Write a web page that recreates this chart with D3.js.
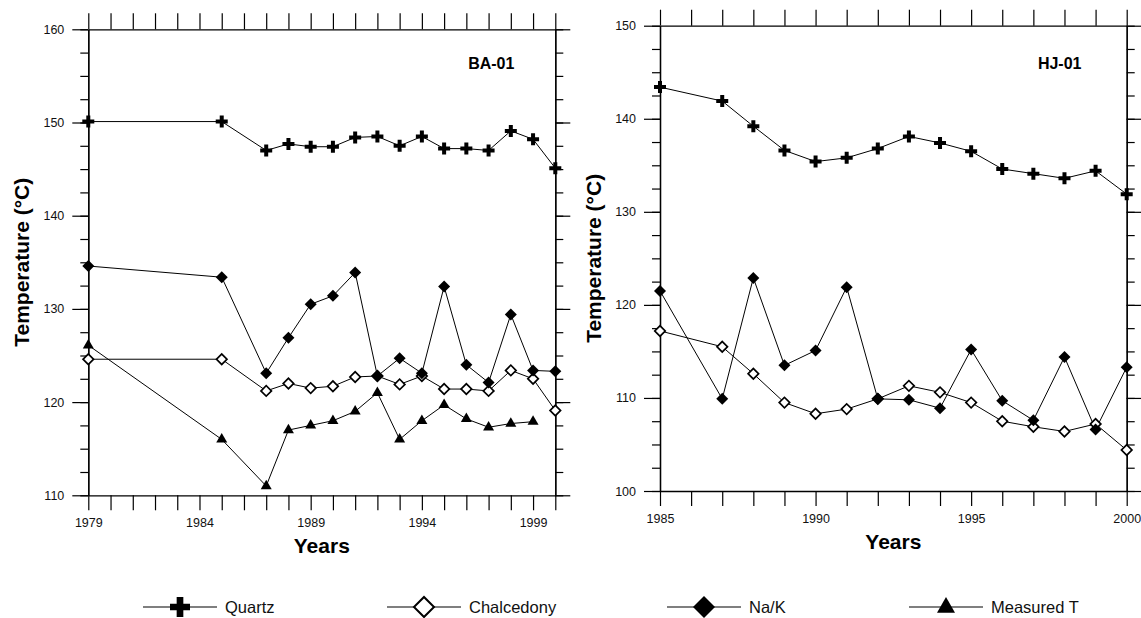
<!DOCTYPE html>
<html>
<head>
<meta charset="utf-8">
<script src="https://cdn.jsdelivr.net/npm/d3@7"></script>
<style>
  html, body { margin: 0; padding: 0; background: #fff; }
  svg { display: block; font-family: "Liberation Sans", Arial, sans-serif; }
</style>
</head>
<body>
<svg id="chart" width="1141" height="618"></svg>
<script>
// ---- Well BA-01 ----
const baYears = [1979, 1985, 1987, 1988, 1989, 1990, 1991, 1992, 1993, 1994, 1995, 1996, 1997, 1998, 1999, 2000];
const baQuartz = [150.1, 150.1, 147.0, 147.7, 147.4, 147.4, 148.4, 148.5, 147.5, 148.5, 147.2, 147.2, 147.0, 149.1, 148.2, 145.1];
const baChalcedony = [124.6, 124.6, 121.2, 122.0, 121.5, 121.7, 122.7, 122.8, 121.9, 122.8, 121.4, 121.4, 121.2, 123.4, 122.5, 119.1];
const baNaK = [134.6, 133.4, 123.1, 126.9, 130.5, 131.4, 133.9, 122.8, 124.7, 123.1, 132.4, 124.0, 122.1, 129.4, 123.4, 123.3];
const baMeasured = [126.1, 116.0, 111.0, 117.0, 117.5, 118.0, 119.0, 121.0, 116.0, 118.0, 119.7, 118.2, 117.3, 117.7, 117.9, null];
const baYearLabels = [1979, 1984, 1989, 1994, 1999];
const baTempLabels = [110, 120, 130, 140, 150, 160];

// ---- Well HJ-01 ----
const hjYears = [1985, 1987, 1988, 1989, 1990, 1991, 1992, 1993, 1994, 1995, 1996, 1997, 1998, 1999, 2000];
const hjQuartz = [143.4, 141.9, 139.2, 136.6, 135.4, 135.8, 136.8, 138.1, 137.4, 136.5, 134.6, 134.1, 133.6, 134.4, 131.9];
const hjChalcedony = [117.2, 115.5, 112.6, 109.5, 108.3, 108.8, 109.9, 111.3, 110.6, 109.5, 107.5, 106.9, 106.4, 107.2, 104.4];
const hjNaK = [121.5, 109.9, 122.9, 113.5, 115.1, 121.9, 109.9, 109.8, 108.9, 115.2, 109.7, 107.6, 114.4, 106.6, 113.3];
const hjYearLabels = [1985, 1990, 1995, 2000];
const hjTempLabels = [100, 110, 120, 130, 140, 150];

const seriesNames = ["Quartz", "Chalcedony", "Na/K", "Measured T"];

const svg = d3.select("#chart");

// Marker shapes; sz = overall width in px
function markerPath(kind, sz) {
  if (kind === "Quartz") {
    const a = (sz / 3) * (sz / 3) * 5;
    return d3.symbol(d3.symbolCross, a)();
  }
  if (kind === "Chalcedony" || kind === "Na/K") {
    const s = sz / Math.SQRT2;
    return d3.symbol(d3.symbolSquare, s * s)();
  }
  const y = sz / (2 * Math.sqrt(3));
  return d3.symbol(d3.symbolTriangle, 3 * Math.sqrt(3) * y * y)();
}

function drawMarker(g, kind, x, y, sz) {
  const p = g.append("path")
    .attr("d", markerPath(kind, sz));
  if (kind === "Chalcedony" || kind === "Na/K") {
    p.attr("transform", `translate(${x},${y}) rotate(45)`);
  } else {
    p.attr("transform", `translate(${x},${y})`);
  }
  if (kind === "Chalcedony") {
    p.attr("fill", "#fff").attr("stroke", "#000").attr("stroke-width", 1.7);
  } else {
    p.attr("fill", "#000");
  }
  return p;
}

function drawPanel(cfg) {
  const x = d3.scaleLinear().domain(cfg.yearDomain).range([cfg.left, cfg.right]);
  const y = d3.scaleLinear().domain(cfg.tempDomain).range([cfg.bottom, cfg.top]);
  const g = svg.append("g");

  const allYears = d3.range(cfg.yearDomain[0], cfg.yearDomain[1] + 1);
  const minorTemps = d3.range(cfg.tempDomain[0], cfg.tempDomain[1] + 0.01, 2.5);

  const styleAxis = sel => {
    sel.selectAll("path.domain").attr("stroke", "#000").attr("stroke-width", 1.3);
    sel.selectAll(".tick line").attr("stroke", "#000").attr("stroke-width", 1.2);
    sel.selectAll(".tick text").attr("fill", "#111")
      .style("font-family", '"Liberation Sans", Arial, sans-serif');
  };

  // bottom axis: a tick per year, labels every 5 years
  g.append("g").attr("transform", `translate(0,${cfg.bottom})`)
    .call(d3.axisBottom(x).tickValues(allYears).tickSize(15).tickSizeOuter(0).tickPadding(8)
      .tickFormat(d => cfg.yearLabels.includes(d) ? String(d) : ""))
    .call(styleAxis)
    .selectAll(".tick text").style("font-size", "12.5px");

  // top axis: ticks only
  g.append("g").attr("transform", `translate(0,${cfg.top})`)
    .call(d3.axisTop(x).tickValues(allYears).tickSize(16).tickSizeOuter(0).tickFormat(""))
    .call(styleAxis);

  // left axis: minor and major ticks
  g.append("g").attr("transform", `translate(${cfg.left},0)`)
    .call(d3.axisLeft(y).tickValues(minorTemps).tickSize(8).tickSizeOuter(0).tickFormat(""))
    .call(styleAxis);
  g.append("g").attr("transform", `translate(${cfg.left},0)`)
    .call(d3.axisLeft(y).tickValues(cfg.tempLabels).tickSize(16).tickSizeOuter(0).tickPadding(8)
      .tickFormat(d3.format("d")))
    .call(styleAxis)
    .selectAll(".tick text").style("font-size", "12.5px");

  // right axis: minor and major ticks, no labels
  g.append("g").attr("transform", `translate(${cfg.right},0)`)
    .call(d3.axisRight(y).tickValues(minorTemps).tickSize(8).tickSizeOuter(0).tickFormat(""))
    .call(styleAxis);
  g.append("g").attr("transform", `translate(${cfg.right},0)`)
    .call(d3.axisRight(y).tickValues(cfg.tempLabels).tickSize(15).tickSizeOuter(0).tickFormat(""))
    .call(styleAxis);

  // series lines, then markers
  const line = d3.line()
    .defined(d => d.v !== null)
    .x(d => x(d.yr))
    .y(d => y(d.v));

  cfg.series.forEach(s => {
    const pts = cfg.years.map((yr, i) => ({ yr, v: s.values[i] }));
    g.append("path")
      .datum(pts)
      .attr("d", line)
      .attr("fill", "none")
      .attr("stroke", "#000")
      .attr("stroke-width", 1);
  });
  cfg.series.forEach(s => {
    const mg = g.append("g");
    cfg.years.forEach((yr, i) => {
      const v = s.values[i];
      if (v === null) return;
      drawMarker(mg, s.name, x(yr), y(v), s.name === "Chalcedony" ? 10.5 : (s.name === "Measured T" ? 11 : 12));
    });
  });

  // well name
  g.append("text")
    .attr("x", cfg.right - cfg.nameOffset)
    .attr("y", cfg.nameY)
    .attr("text-anchor", "middle")
    .style("font-size", "16px")
    .style("font-weight", "bold")
    .text(cfg.name);

  // axis titles
  g.append("text")
    .attr("x", (cfg.left + cfg.right) / 2)
    .attr("y", cfg.bottom + 58)
    .attr("text-anchor", "middle")
    .style("font-size", "21px")
    .style("font-weight", "bold")
    .text("Years");

  g.append("text")
    .attr("transform", `translate(${cfg.left - 59},${(cfg.top + cfg.bottom) / 2}) rotate(-90)`)
    .attr("text-anchor", "middle")
    .style("font-size", "21px")
    .style("font-weight", "bold")
    .text("Temperature (°C)");
}

drawPanel({
  name: "BA-01", nameOffset: 64, nameY: 69,
  left: 88.3, right: 555.3, top: 29.3, bottom: 495.3,
  yearDomain: [1979, 2000], tempDomain: [110, 160],
  yearLabels: baYearLabels, tempLabels: baTempLabels,
  years: baYears,
  series: [
    { name: "Quartz", values: baQuartz },
    { name: "Chalcedony", values: baChalcedony },
    { name: "Na/K", values: baNaK },
    { name: "Measured T", values: baMeasured }
  ]
});

drawPanel({
  name: "HJ-01", nameOffset: 67, nameY: 68.5,
  left: 660, right: 1126.7, top: 25.7, bottom: 491,
  yearDomain: [1985, 2000], tempDomain: [100, 150],
  yearLabels: hjYearLabels, tempLabels: hjTempLabels,
  years: hjYears,
  series: [
    { name: "Quartz", values: hjQuartz },
    { name: "Chalcedony", values: hjChalcedony },
    { name: "Na/K", values: hjNaK }
  ]
});

// legend along the bottom
const legendX = [180, 424, 704, 946];
const legendSizes = [20, 20, 22, 18];
const legend = svg.append("g");
seriesNames.forEach((name, i) => {
  const cx = legendX[i];
  const ly = 607;
  legend.append("line")
    .attr("x1", cx - 37).attr("x2", cx + 37)
    .attr("y1", ly).attr("y2", ly)
    .attr("stroke", "#000").attr("stroke-width", 1.2);
  const sz = legendSizes[i];
  drawMarker(legend, name, cx, name === "Measured T" ? ly + 0.5 : ly, sz)
    .attr("stroke-width", name === "Chalcedony" ? 2 : null);
  legend.append("text")
    .attr("x", cx + 45)
    .attr("y", ly + 6)
    .style("font-size", "16.5px")
    .attr("fill", "#111")
    .text(name);
});
</script>
</body>
</html>
